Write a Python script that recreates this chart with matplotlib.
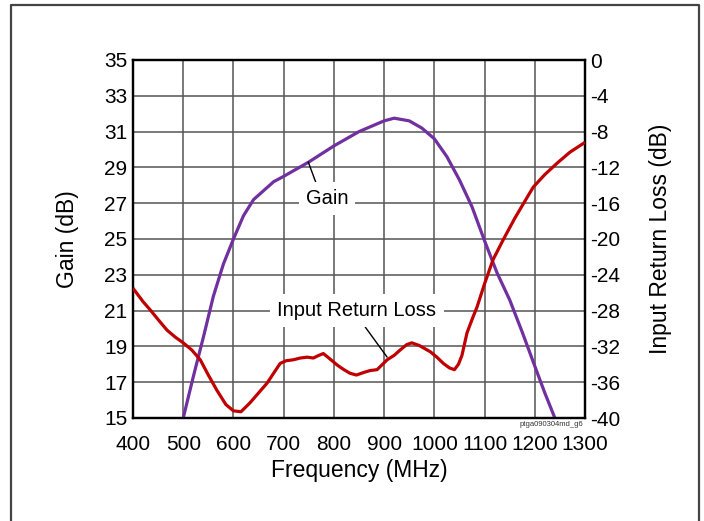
import matplotlib
matplotlib.use("Agg")
import matplotlib.pyplot as plt
from matplotlib.lines import Line2D

plt.rcParams['font.family'] = ['Liberation Sans', 'DejaVu Sans']

# ---------------- data ----------------
gain_freq = [500, 520, 540, 560, 580, 600, 620, 640, 660, 680, 700, 750, 800, 850,
             900, 920, 950, 975, 1000, 1025, 1050, 1075, 1100, 1125, 1150, 1175,
             1200, 1220, 1240]
gain_db = [15.0, 17.3, 19.5, 21.8, 23.6, 25.0, 26.3, 27.2, 27.7, 28.2, 28.5, 29.3,
           30.2, 31.0, 31.6, 31.75, 31.6, 31.2, 30.6, 29.6, 28.3, 26.8, 24.9, 23.1,
           21.6, 19.8, 17.9, 16.4, 15.0]

rl_freq = [400, 420, 434, 450, 468, 485, 500, 517, 534, 550, 567, 585, 600, 615,
           633, 650, 667, 680, 693, 705, 719, 733, 747, 759, 770, 779, 790, 807,
           820, 832, 845, 860, 872, 886, 906, 920, 932, 945, 955, 970, 992, 1005,
           1018, 1030, 1040, 1048, 1055, 1065, 1075, 1085, 1100, 1117, 1137, 1160,
           1180, 1197, 1220, 1245, 1270, 1300]
rl_db = [-25.5, -27.0, -27.9, -29.0, -30.2, -31.0, -31.6, -32.4, -33.5, -35.2,
         -36.9, -38.5, -39.2, -39.3, -38.3, -37.2, -36.1, -35.0, -33.9, -33.6,
         -33.5, -33.3, -33.2, -33.3, -33.0, -32.8, -33.3, -34.1, -34.6, -35.0,
         -35.2, -34.9, -34.7, -34.6, -33.5, -33.0, -32.4, -31.8, -31.6, -31.9,
         -32.6, -33.2, -33.9, -34.4, -34.6, -34.0, -33.0, -30.5, -29.0, -27.6,
         -25.0, -22.3, -20.1, -17.7, -15.8, -14.2, -12.8, -11.5, -10.3, -9.2]

x_ticks = [400, 500, 600, 700, 800, 900, 1000, 1100, 1200, 1300]
gain_ticks = [15, 17, 19, 21, 23, 25, 27, 29, 31, 33, 35]
rl_ticks = [-40, -36, -32, -28, -24, -20, -16, -12, -8, -4, 0]

# ---------------- figure ----------------
fig = plt.figure(figsize=(7.04, 5.21), dpi=100)
ax = fig.add_axes([133/704, 1-418/521, (585-133)/704, (418-60)/521])
ax2 = ax.twinx()

grid_c = '#555555'
ax.set_xlim(400, 1300)
ax.set_ylim(15, 35)
ax2.set_ylim(-40, 0)
ax.set_xticks(x_ticks)
ax.set_yticks(gain_ticks)
ax2.set_yticks(rl_ticks)
ax.set_yticklabels([str(v) for v in gain_ticks])
ax2.set_yticklabels([str(v) for v in rl_ticks])
ax.grid(True, color=grid_c, linewidth=1.1, zorder=0)
ax.set_axisbelow(True)

ax.tick_params(axis='both', length=0, labelsize=15)
ax.tick_params(axis='x', pad=12)
ax.tick_params(axis='y', pad=4)
ax2.tick_params(axis='y', length=0, labelsize=15, pad=4)

for a in (ax, ax2):
    for s in a.spines.values():
        s.set_linewidth(1.6)
        s.set_color('black')

ax.plot(gain_freq, gain_db, color='#7030A0', linewidth=2.3, zorder=3,
        solid_joinstyle='round', solid_capstyle='butt')
ax2.plot(rl_freq, rl_db, color='#C00000', linewidth=2.3, zorder=3,
         solid_joinstyle='round', solid_capstyle='butt')

ax.set_xlabel('Frequency (MHz)', fontsize=16.5, labelpad=4)
ax.set_ylabel('Gain (dB)', fontsize=16.5, labelpad=18)
ax2.set_ylabel('Input Return Loss (dB)', fontsize=16.5, labelpad=20)

bbox = dict(boxstyle='square,pad=0.35', facecolor='white', edgecolor='none')
ax.annotate('Gain', xy=(749, 29.3), xytext=(786, 27.25), fontsize=14.5,
            ha='center', va='center', bbox=bbox, zorder=5,
            arrowprops=dict(arrowstyle='-', color='black', linewidth=1.0,
                            shrinkA=0, shrinkB=0, relpos=(0.3, 1.0)))
ax.annotate('Input Return Loss', xy=(906, 18.4), xytext=(846, 21.0), fontsize=14.5,
            ha='center', va='center', bbox=bbox, zorder=5,
            arrowprops=dict(arrowstyle='-', color='black', linewidth=1.0,
                            shrinkA=0, shrinkB=0, relpos=(0.52, 0.0)))

fig.text(583/704, 1-424/521, 'ptga090304md_g6', fontsize=5.5, color='#333333',
         ha='right', va='center')

# figure frame
fx0, fx1, fy1 = 11/704, 699/704, 1-5/521
fig.add_artist(Line2D([fx0, fx0, fx1, fx1], [0, fy1, fy1, 0],
                      transform=fig.transFigure, color='#444444', linewidth=1.6))

fig.savefig('out.png', dpi=100)
